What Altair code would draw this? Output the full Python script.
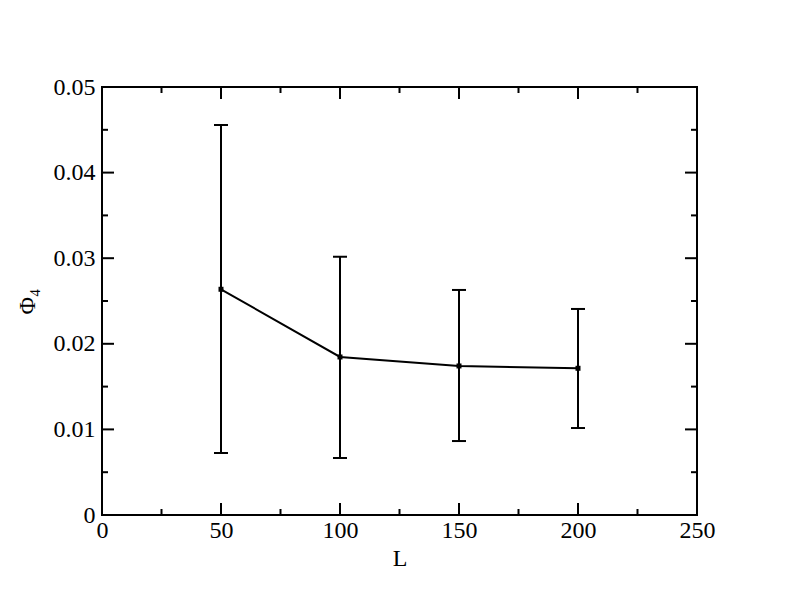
import altair as alt
import pandas as pd

L = [50, 100, 150, 200]
phi = [0.02637, 0.01846, 0.01741, 0.01714]
phi_lo = [0.00724, 0.00666, 0.00864, 0.01016]
phi_hi = [0.04556, 0.03017, 0.02629, 0.02407]

x_major = [0, 50, 100, 150, 200, 250]
x_minor = [25, 75, 125, 175, 225]
y_major = [0, 0.01, 0.02, 0.03, 0.04, 0.05]
y_minor = [0.005, 0.015, 0.025, 0.035, 0.045]

W, H = 595, 428
FONT = "'Times New Roman', 'Liberation Serif', Times, serif"

df = pd.DataFrame({"L": L, "phi": phi, "lo": phi_lo, "hi": phi_hi})

xs = alt.Scale(domain=[0, 250], nice=False)
ys = alt.Scale(domain=[0, 0.05], nice=False)

base = alt.Chart(df)

line = base.mark_line(color="black", strokeWidth=2).encode(
    x=alt.X("L:Q", scale=xs, title="L",
            axis=alt.Axis(values=x_major, tickSize=0, domain=False, grid=False,
                          labelFlush=False, labelOverlap=False,
                          labelFont=FONT, labelFontSize=24, labelColor="black",
                          labelPadding=3, titleFont=FONT, titleFontSize=24,
                          titleFontWeight="normal", titleColor="black", titlePadding=4)),
    y=alt.Y("phi:Q", scale=ys, title="Φ₄",
            axis=alt.Axis(values=y_major, tickSize=0, domain=False, grid=False,
                          labelFlush=False, labelOverlap=False,
                          format=".2~f", labelFont=FONT, labelFontSize=24,
                          labelColor="black", labelPadding=7, titleFont=FONT,
                          titleFontSize=24, titleFontWeight="normal",
                          titleColor="black", titlePadding=14)),
)

pts = base.mark_square(color="black", size=25, opacity=1).encode(
    x=alt.X("L:Q", scale=xs), y=alt.Y("phi:Q", scale=ys))

err = base.mark_rule(color="black", strokeWidth=2).encode(
    x=alt.X("L:Q", scale=xs), y=alt.Y("lo:Q", scale=ys), y2="hi:Q")

cap_hi = base.mark_tick(color="black", orient="horizontal", size=14, thickness=2, opacity=1).encode(
    x=alt.X("L:Q", scale=xs), y=alt.Y("hi:Q", scale=ys))
cap_lo = base.mark_tick(color="black", orient="horizontal", size=14, thickness=2, opacity=1).encode(
    x=alt.X("L:Q", scale=xs), y=alt.Y("lo:Q", scale=ys))

def xticks(vals, length):
    d = alt.Chart(pd.DataFrame({"v": vals}))
    b = d.mark_rule(color="black", strokeWidth=2).encode(
        x=alt.X("v:Q", scale=xs), y=alt.value(H), y2=alt.value(H - length))
    t = d.mark_rule(color="black", strokeWidth=2).encode(
        x=alt.X("v:Q", scale=xs), y=alt.value(0), y2=alt.value(length))
    return [b, t]

def yticks(vals, length):
    d = alt.Chart(pd.DataFrame({"v": vals}))
    l = d.mark_rule(color="black", strokeWidth=2).encode(
        y=alt.Y("v:Q", scale=ys), x=alt.value(0), x2=alt.value(length))
    r = d.mark_rule(color="black", strokeWidth=2).encode(
        y=alt.Y("v:Q", scale=ys), x=alt.value(W), x2=alt.value(W - length))
    return [l, r]

ticks = xticks(x_major, 12) + xticks(x_minor, 6) + yticks(y_major, 12) + yticks(y_minor, 6)

chart = alt.layer(line, err, cap_hi, cap_lo, pts, *ticks).properties(
    width=W, height=H,
    autosize=alt.AutoSizeParams(type="none"),
    padding={"left": 94, "top": 79, "right": 87, "bottom": 84},
    background="white",
).configure_view(stroke="black", strokeWidth=2)

chart.save("out.html", embed_options={"renderer": "svg", "actions": False})
